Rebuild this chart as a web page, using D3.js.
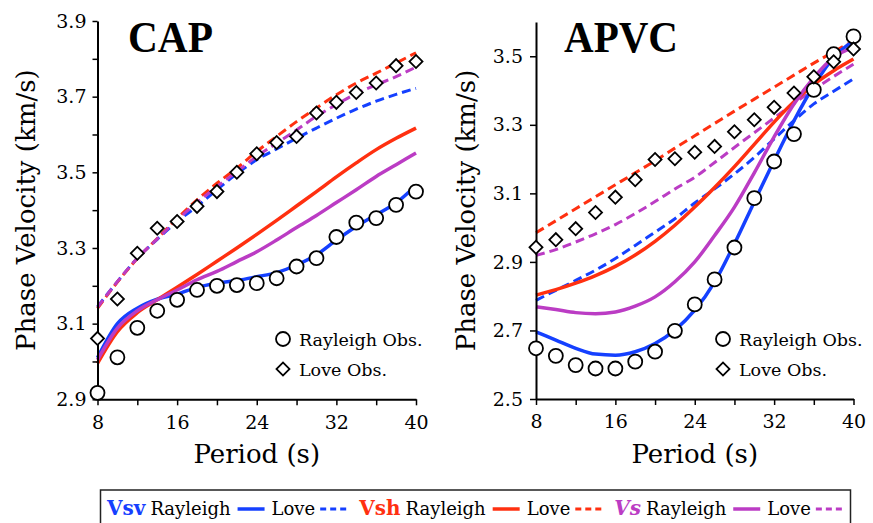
<!DOCTYPE html>
<html>
<head>
<meta charset="utf-8">
<script src="https://cdn.jsdelivr.net/npm/d3@7"></script>
<style>
  html, body { margin: 0; padding: 0; background: #fff; }
  svg text { font-family: "DejaVu Serif", serif; }
</style>
</head>
<body>
<svg id="chart" width="873" height="523"></svg>
<script>
// ---------------- DATA ----------------
const periods = [8,10,12,14,16,18,20,22,24,26,28,30,32,34,36,38,40];
const xTickValues = [8,12,16,20,24,28,32,36,40];
const xTickLabels = [8,16,24,32,40];

// CAP panel
const capRayleighObs = [2.917,3.011,3.089,3.134,3.163,3.189,3.200,3.202,3.207,3.220,3.251,3.273,3.329,3.367,3.379,3.414,3.449];
const capLoveObs     = [3.061,3.165,3.286,3.352,3.370,3.410,3.449,3.500,3.549,3.579,3.595,3.657,3.685,3.711,3.736,3.782,3.793];
const capVsvRayleigh = [3.010,3.100,3.141,3.165,3.178,3.196,3.207,3.214,3.224,3.235,3.255,3.282,3.321,3.357,3.388,3.419,3.465];
const capVsvLove     = [3.145,3.211,3.273,3.323,3.370,3.410,3.454,3.496,3.533,3.562,3.590,3.617,3.643,3.667,3.688,3.706,3.722];
const capVshRayleigh = [2.995,3.079,3.129,3.163,3.196,3.230,3.265,3.300,3.336,3.373,3.411,3.449,3.488,3.525,3.560,3.590,3.617];
const capVshLove     = [3.140,3.210,3.272,3.325,3.378,3.427,3.471,3.511,3.555,3.595,3.634,3.670,3.705,3.736,3.762,3.789,3.816];
const capVsRayleigh  = [3.004,3.088,3.134,3.163,3.189,3.216,3.238,3.264,3.290,3.321,3.354,3.386,3.420,3.454,3.489,3.520,3.551];
const capVsLove      = [3.143,3.211,3.273,3.324,3.374,3.420,3.462,3.502,3.542,3.577,3.612,3.648,3.679,3.708,3.731,3.753,3.778];
const capYTicks  = [2.9,3.0,3.1,3.2,3.3,3.4,3.5,3.6,3.7,3.8,3.9];
const capYLabels = [2.9,3.1,3.3,3.5,3.7,3.9];

// APVC panel
const apvcRayleighObs = [2.648,2.626,2.599,2.589,2.589,2.609,2.638,2.699,2.776,2.849,2.942,3.086,3.193,3.273,3.402,3.506,3.558];
const apvcLoveObs     = [2.943,2.965,2.997,3.044,3.089,3.140,3.199,3.201,3.220,3.237,3.280,3.315,3.351,3.393,3.440,3.484,3.521];
const apvcVsvRayleigh = [2.696,2.672,2.648,2.631,2.628,2.638,2.662,2.701,2.759,2.841,2.953,3.075,3.196,3.312,3.414,3.497,3.545];
const apvcVsvLove     = [2.788,2.817,2.846,2.876,2.910,2.948,2.987,3.026,3.072,3.113,3.157,3.205,3.259,3.312,3.361,3.398,3.434];
const apvcVshRayleigh = [2.803,2.819,2.838,2.860,2.887,2.920,2.960,3.007,3.060,3.117,3.178,3.243,3.308,3.367,3.418,3.458,3.492];
const apvcVshLove     = [2.985,3.020,3.055,3.090,3.125,3.160,3.195,3.232,3.268,3.304,3.340,3.375,3.410,3.445,3.480,3.513,3.545];
const apvcVsRayleigh  = [2.769,2.761,2.752,2.749,2.754,2.771,2.798,2.842,2.900,2.977,3.060,3.160,3.265,3.361,3.438,3.497,3.525];
const apvcVsLove      = [2.919,2.936,2.958,2.982,3.009,3.041,3.076,3.113,3.147,3.190,3.234,3.277,3.320,3.362,3.403,3.441,3.477];
const apvcYTicks  = [2.5,2.7,2.9,3.1,3.3,3.5];
const apvcYLabels = [2.5,2.7,2.9,3.1,3.3,3.5];

// ---------------- STYLE ----------------
const COL = { vsv: "#1540ff", vsh: "#ff3010", vs: "#bb3cc4" };

const svg = d3.select("#chart");

const panels = [
  { title: "CAP", titleX: 128, titleW: 85, x0: 97.5, x1: 416, y0: 399.3, y1: 21, ydom: [2.9, 3.9],
    yTicks: capYTicks, yLabels: capYLabels, tickLen: 5, tickPad: 6, axisTitleX: 35,
    legX: 283,
    series: [
      { v: capVsvLove, c: COL.vsv, dash: true },
      { v: capVshLove, c: COL.vsh, dash: true },
      { v: capVsLove,  c: COL.vs,  dash: true },
      { v: capVsvRayleigh, c: COL.vsv, dash: false },
      { v: capVshRayleigh, c: COL.vsh, dash: false },
      { v: capVsRayleigh,  c: COL.vs,  dash: false }
    ],
    ray: capRayleighObs, love: capLoveObs },
  { title: "APVC", titleX: 564, titleW: 114, x0: 536, x1: 853.5, y0: 399, y1: 22, ydom: [2.5, 3.6],
    yTicks: apvcYTicks, yLabels: apvcYLabels, tickLen: 6, tickPad: 7, axisTitleX: 475,
    legX: 723,
    series: [
      { v: apvcVsvLove, c: COL.vsv, dash: true },
      { v: apvcVshLove, c: COL.vsh, dash: true },
      { v: apvcVsLove,  c: COL.vs,  dash: true },
      { v: apvcVsvRayleigh, c: COL.vsv, dash: false },
      { v: apvcVshRayleigh, c: COL.vsh, dash: false },
      { v: apvcVsRayleigh,  c: COL.vs,  dash: false }
    ],
    ray: apvcRayleighObs, love: apvcLoveObs }
];

panels.forEach(p => {
  const x = d3.scaleLinear().domain([8, 40]).range([p.x0, p.x1]);
  const y = d3.scaleLinear().domain(p.ydom).range([p.y0, p.y1]);
  const g = svg.append("g");

  // lines
  const line = d3.line().x((d, i) => x(periods[i])).y(d => y(d)).curve(d3.curveMonotoneX);
  p.series.forEach(s => {
    g.append("path").datum(s.v)
      .attr("d", line)
      .attr("fill", "none")
      .attr("stroke", s.c)
      .attr("stroke-width", s.dash ? 3 : 3.5)
      .attr("stroke-dasharray", s.dash ? "9,5" : null)
      .attr("stroke-linecap", "butt");
  });

  // axes
  const yAxis = d3.axisLeft(y).tickValues(p.yTicks).tickSize(p.tickLen).tickSizeOuter(0).tickPadding(p.tickPad)
    .tickFormat(d => p.yLabels.some(v => Math.abs(v - d) < 1e-6) ? d3.format(".1f")(d) : "");
  const ya = g.append("g").attr("transform", `translate(${p.x0},0)`).call(yAxis);
  const xAxis = d3.axisBottom(x).tickValues(xTickValues).tickSize(6).tickSizeOuter(0).tickPadding(10)
    .tickFormat(d => xTickLabels.includes(d) ? d : "");
  const xa = g.append("g").attr("transform", `translate(0,${p.y0})`).call(xAxis);
  [ya, xa].forEach(a => {
    a.select(".domain").attr("stroke", "#000").attr("stroke-width", 2);
    a.selectAll(".tick line").attr("stroke", "#000").attr("stroke-width", 1.5);
    a.selectAll(".tick text").attr("fill", "#000").attr("font-size", 19).attr("font-family", "DejaVu Serif");
  });

  // observed markers
  g.selectAll(".ray").data(p.ray).enter().append("circle")
    .attr("cx", (d, i) => x(periods[i])).attr("cy", d => y(d)).attr("r", 7)
    .attr("fill", "#fff").attr("stroke", "#000").attr("stroke-width", 1.8);
  const dia = d3.symbol().type(d3.symbolSquare).size(85);
  g.selectAll(".love").data(p.love).enter().append("path")
    .attr("d", dia)
    .attr("transform", (d, i) => `translate(${x(periods[i])},${y(d)}) rotate(45)`)
    .attr("fill", "#fff").attr("stroke", "#000").attr("stroke-width", 1.8);

  // axis titles
  svg.append("text").attr("transform", `translate(${p.axisTitleX},${(p.y0 + p.y1) / 2}) rotate(-90)`)
    .attr("text-anchor", "middle").attr("font-size", 26).attr("fill", "#000")
    .text("Phase Velocity (km/s)");
  svg.append("text").attr("x", (p.x0 + p.x1) / 2).attr("y", 463)
    .attr("text-anchor", "middle").attr("font-size", 26).attr("fill", "#000")
    .text("Period (s)");

  // panel title
  svg.append("text").attr("x", p.titleX).attr("y", 52)
    .attr("font-weight", "bold").attr("font-size", 45)
    .attr("textLength", p.titleW).attr("lengthAdjust", "spacingAndGlyphs")
    .style("font-family", "'Liberation Serif', serif")
    .text(p.title);

  // inner legend
  const lg = svg.append("g");
  lg.append("circle").attr("cx", p.legX).attr("cy", 339).attr("r", 7)
    .attr("fill", "#fff").attr("stroke", "#000").attr("stroke-width", 1.8);
  lg.append("text").attr("x", p.legX + 16).attr("y", 346).attr("font-size", 17.5).text("Rayleigh Obs.");
  lg.append("path").attr("d", dia).attr("transform", `translate(${p.legX},369) rotate(45)`)
    .attr("fill", "#fff").attr("stroke", "#000").attr("stroke-width", 1.8);
  lg.append("text").attr("x", p.legX + 16).attr("y", 376).attr("font-size", 17.5).text("Love Obs.");
});

// ---------------- BOTTOM LEGEND ----------------
svg.append("rect").attr("x", 100.5).attr("y", 490).attr("width", 750).attr("height", 45)
  .attr("fill", "#fff").attr("stroke", "#222").attr("stroke-width", 1.5);

const legendGroups = [
  { label: "Vsv", color: COL.vsv, italic: false },
  { label: "Vsh", color: COL.vsh, italic: false },
  { label: "Vs",  color: COL.vs,  italic: true }
];
const lgd = svg.append("g");
let cx = 107;
const baseY = 514.5, lineY = 509;
legendGroups.forEach((grp, gi) => {
  const t = lgd.append("text").attr("x", cx).attr("y", baseY)
    .attr("font-size", 20).attr("font-weight", "bold").attr("fill", grp.color)
    .attr("font-style", grp.italic ? "italic" : "normal").text(grp.label);
  cx += t.node().getComputedTextLength() + 5;
  const r = lgd.append("text").attr("x", cx).attr("y", baseY).attr("font-size", 18).attr("fill", "#000").text("Rayleigh");
  cx += r.node().getComputedTextLength() + 7;
  lgd.append("line").attr("x1", cx).attr("x2", cx + 27).attr("y1", lineY).attr("y2", lineY)
    .attr("stroke", grp.color).attr("stroke-width", 3.5);
  cx += 27 + 7;
  const l = lgd.append("text").attr("x", cx).attr("y", baseY).attr("font-size", 18).attr("fill", "#000").text("Love");
  cx += l.node().getComputedTextLength() + 5;
  lgd.append("line").attr("x1", cx).attr("x2", cx + 27).attr("y1", lineY).attr("y2", lineY)
    .attr("stroke", grp.color).attr("stroke-width", 3).attr("stroke-dasharray", "6,4");
  cx += 27 + 12;
});
</script>
</body>
</html>
